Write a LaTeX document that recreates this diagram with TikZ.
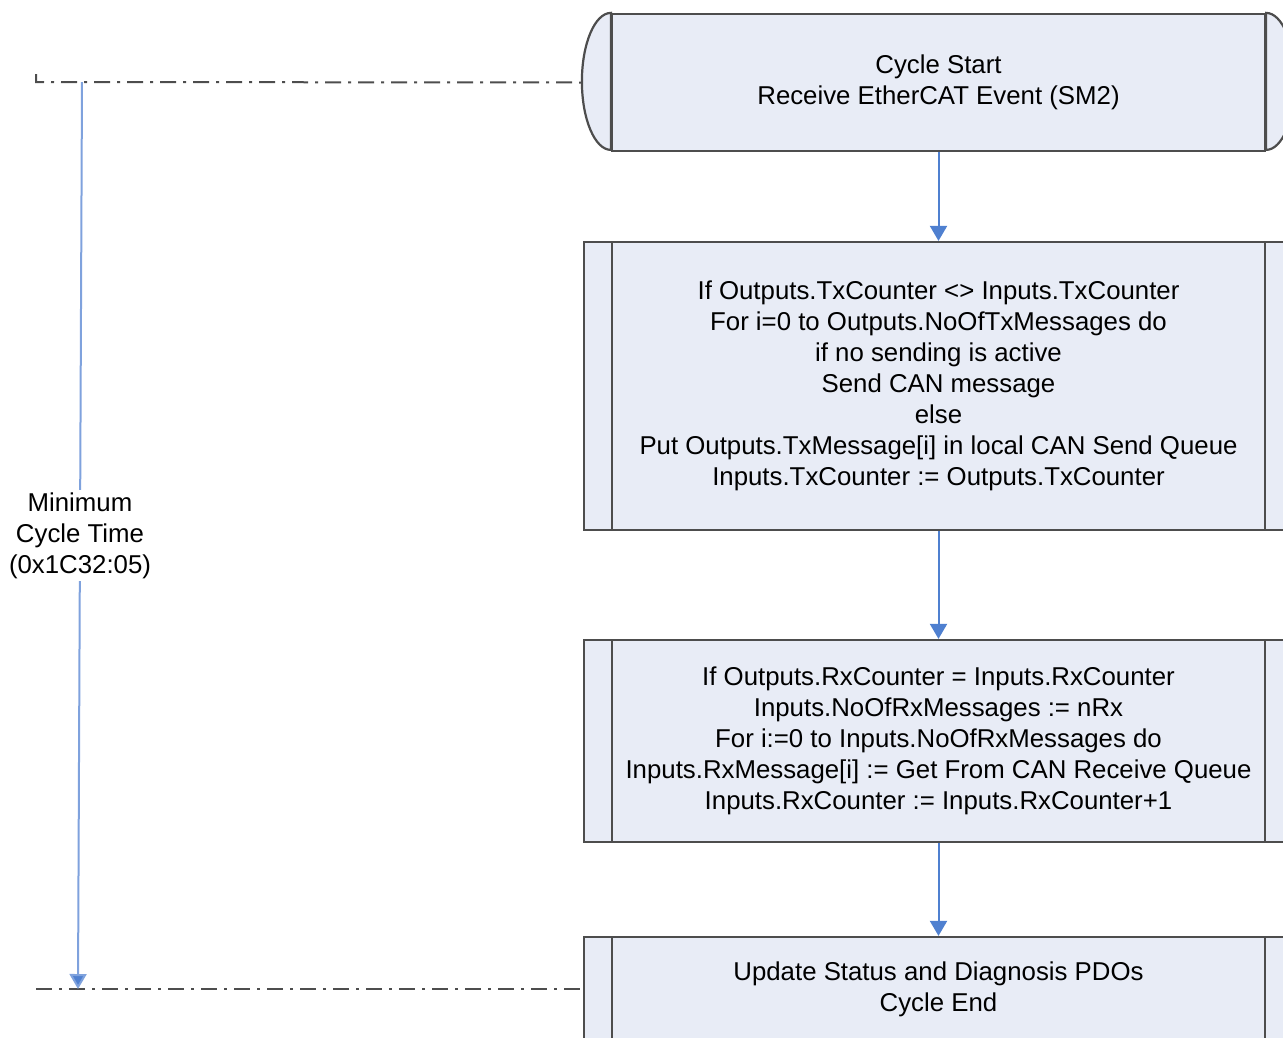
\documentclass[tikz,border=0pt]{standalone}
\usepackage{fontspec}
\setmainfont{Liberation Sans}
\usetikzlibrary{arrows.meta,positioning}
\definecolor{boxfill}{HTML}{E8ECF6}
\definecolor{boxline}{HTML}{4D4D4D}
\definecolor{flowblue}{HTML}{4F80D0}
\definecolor{spanblue}{HTML}{7FA2DD}

\begin{document}
\begin{tikzpicture}[
  x=1pt, y=-1pt,
  >={Triangle[width=17pt,length=15pt]},
  every node/.style={font=\fontsize{25.8}{31}\selectfont, text=black},
  proc/.style={draw=boxline, line width=2.2pt, fill=boxfill, minimum width=709pt,
    align=center, inner sep=0pt,
    path picture={\draw[boxline, line width=2.2pt]
      ([xshift=28pt]path picture bounding box.north west) -- ([xshift=28pt]path picture bounding box.south west)
      ([xshift=-28pt]path picture bounding box.north east) -- ([xshift=-28pt]path picture bounding box.south east);}},
  term/.style={draw=boxline, line width=2.2pt, fill=boxfill, minimum width=653pt,
    minimum height=137pt, align=center, inner sep=0pt},
  flow/.style={->, flowblue, line width=2pt},
  cyc/.style={boxline, line width=2pt, dash pattern=on 16pt off 7pt on 3pt off 7pt},
]
\clip (0,0) rectangle (1283,1037);

% Steps
\node[term] (start) at (938.5,82.5) {Cycle Start\\Receive EtherCAT Event (SM2)};
\draw[boxline, line width=2.2pt, fill=boxfill]
  (start.north west) arc[start angle=90, end angle=270, x radius=29pt, y radius=68.5pt] -- cycle;
\draw[boxline, line width=2.2pt, fill=boxfill]
  (start.north east) arc[start angle=90, end angle=-90, x radius=29pt, y radius=68.5pt] -- cycle;

\node[proc, minimum height=288pt] (send) at (938.5,386) {If Outputs.TxCounter <> Inputs.TxCounter\\
  For i=0 to Outputs.NoOfTxMessages do\\
  if no sending is active\\
  Send CAN message\\
  else\\
  Put Outputs.TxMessage[i] in local CAN Send Queue\\
  Inputs.TxCounter := Outputs.TxCounter};
\node[proc, minimum height=202pt] (recv) at (938.5,741) {If Outputs.RxCounter = Inputs.RxCounter\\
  Inputs.NoOfRxMessages := nRx\\
  For i:=0 to Inputs.NoOfRxMessages do\\
  Inputs.RxMessage[i] := Get From CAN Receive Queue\\
  Inputs.RxCounter := Inputs.RxCounter+1};
\node[proc, minimum height=104pt] (stat) at (938.5,989) {Update Status and Diagnosis PDOs\\Cycle End};

% Flow
\draw[flow] (start) -- (send);
\draw[flow] (send) -- (recv);
\draw[flow] (recv) -- (stat);

% Cycle limits
\coordinate (ttick) at (36,74);
\coordinate (tleft) at (36,82);
\coordinate (bleft) at (36,989);
\coordinate (ctop) at (82,82);
\coordinate (cbot) at (78,989);
\draw[cyc] (ttick) -- (tleft) -- ([xshift=-29pt]start.west);
\draw[cyc] (bleft) -- (stat.west);

% Minimum cycle time
\draw[spanblue, line width=2pt, -{Triangle[width=17pt,length=15pt,fill=flowblue]}] (ctop) --
  node[fill=white, align=center, inner sep=2pt] (mct) {Minimum\\Cycle Time\\(0x1C32:05)} (cbot);

\end{tikzpicture}
\end{document}
